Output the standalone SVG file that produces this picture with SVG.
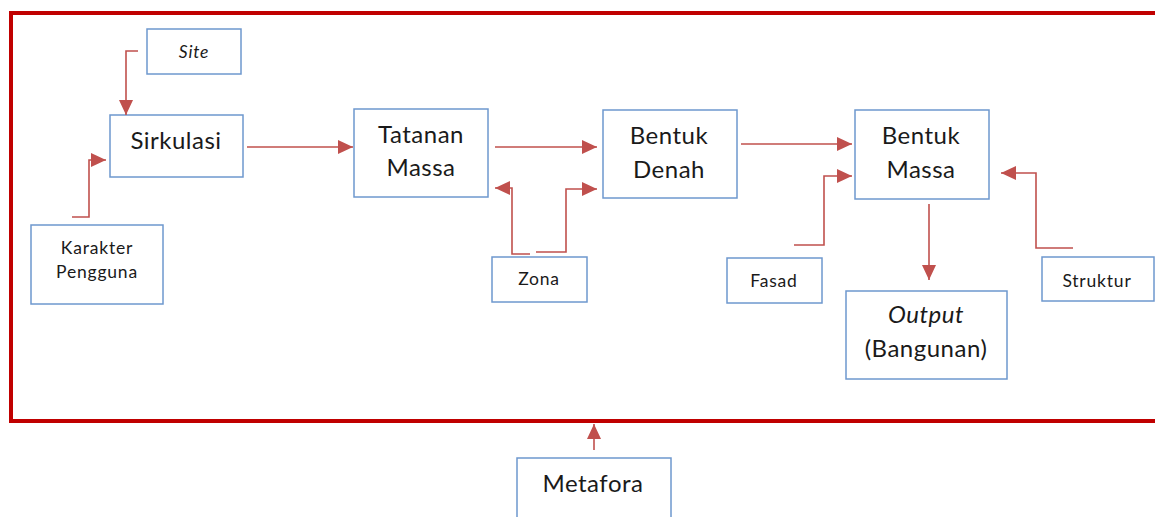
<svg xmlns="http://www.w3.org/2000/svg" width="1155" height="517" viewBox="0 0 1155 517">
<style>
.box{fill:#fff;stroke:#6E98CE;stroke-width:1.5}
.lbl{font-family:Lato,"Open Sans",sans-serif;fill:#1a1a1a;text-anchor:middle}
.big{font-size:24px;letter-spacing:0.5px}
.sm{font-size:17.5px;letter-spacing:0.8px}
.it{font-style:italic}
.con{fill:none;stroke:#C0504D;stroke-width:1.6}
</style>
<defs>
<marker id="ah" markerUnits="userSpaceOnUse" markerWidth="16" markerHeight="14" refX="15" refY="7" orient="auto">
<path d="M0,0 L15,7 L0,14 Z" fill="#C0504D"/>
</marker>
</defs>
<path d="M1160,13 H11 V421 H1160" fill="none" stroke="#C00000" stroke-width="4"/>
<g id="site"><rect class="box" x="147" y="29" width="94" height="45"/><text class="lbl sm it" x="194" y="58">Site</text></g>
<g id="sirkulasi"><rect class="box" x="110" y="115" width="133" height="62"/><text class="lbl big" x="176" y="149">Sirkulasi</text></g>
<g id="karakter"><rect class="box" x="31" y="225" width="132" height="79"/><text class="lbl sm" x="97" y="254">Karakter</text><text class="lbl sm" x="97" y="278">Pengguna</text></g>
<g id="tatanan"><rect class="box" x="354" y="109" width="134" height="88"/><text class="lbl big" x="421" y="143">Tatanan</text><text class="lbl big" x="421" y="176">Massa</text></g>
<g id="denah"><rect class="box" x="603" y="110" width="134" height="88"/><text class="lbl big" x="669" y="144">Bentuk</text><text class="lbl big" x="669" y="178">Denah</text></g>
<g id="zona"><rect class="box" x="492" y="257" width="95" height="45"/><text class="lbl sm" x="539" y="285">Zona</text></g>
<g id="massa"><rect class="box" x="855" y="110" width="134" height="89"/><text class="lbl big" x="921" y="144">Bentuk</text><text class="lbl big" x="921" y="178">Massa</text></g>
<g id="fasad"><rect class="box" x="727" y="258" width="95" height="45"/><text class="lbl sm" x="774" y="287">Fasad</text></g>
<g id="struktur"><rect class="box" x="1042" y="257" width="112" height="44"/><text class="lbl sm" x="1097" y="287">Struktur</text></g>
<g id="output"><rect class="box" x="846" y="291" width="161" height="88"/><text class="lbl big it" x="926" y="323">Output</text><text class="lbl big" x="926" y="357">(Bangunan)</text></g>
<g id="metafora"><rect class="box" x="517" y="458" width="154" height="70"/><text class="lbl big" x="593" y="492">Metafora</text></g>
<g id="connectors">
<path class="con" marker-end="url(#ah)" d="M138,51 H126 V115"/>
<path class="con" marker-end="url(#ah)" d="M72,217 H89 V160 H106"/>
<path class="con" marker-end="url(#ah)" d="M247,147 H353"/>
<path class="con" marker-end="url(#ah)" d="M495,147 H597"/>
<path class="con" marker-end="url(#ah)" d="M530,254 H512 V188 H495"/>
<path class="con" marker-end="url(#ah)" d="M536,252 H566 V189 H597"/>
<path class="con" marker-end="url(#ah)" d="M741,144 H852"/>
<path class="con" marker-end="url(#ah)" d="M794,245 H824 V176 H852"/>
<path class="con" marker-end="url(#ah)" d="M1073,248 H1036 V173 H1001"/>
<path class="con" marker-end="url(#ah)" d="M929,204 V280"/>
<path class="con" marker-end="url(#ah)" d="M594,450 V424"/>
</g>
</svg>
